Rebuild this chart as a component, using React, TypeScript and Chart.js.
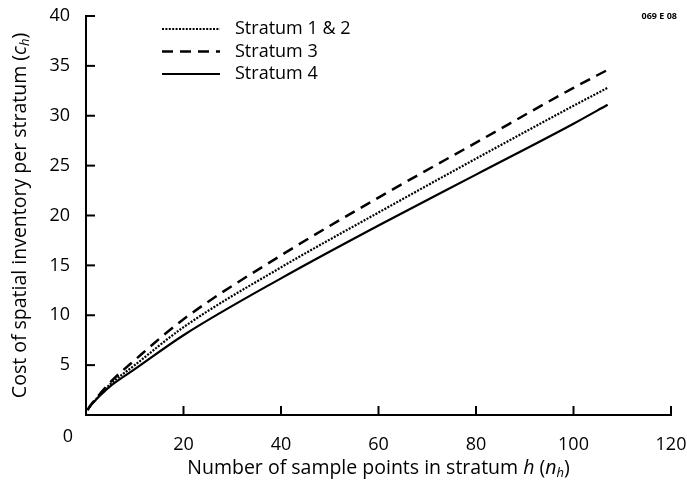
import React, { useEffect, useRef } from "react";
import { Chart, registerables } from "chart.js";

Chart.register(...registerables);

const sampleCounts = [0.3, 1, 2, 3, 5, 10, 20, 40, 60, 80, 100, 107];
const stratum12 = [0.5, 1.0, 1.55, 2.1, 3.1, 5.0, 8.8, 14.8, 20.3, 25.7, 31.0, 32.8];
const stratum3 = [0.5, 1.0, 1.6, 2.2, 3.3, 5.5, 9.6, 16.0, 21.8, 27.3, 32.8, 34.6];
const stratum4 = [0.5, 1.0, 1.5, 2.0, 2.9, 4.6, 8.0, 13.7, 19.0, 24.1, 29.2, 31.1];
const seriesLabels = ["Stratum 1 & 2", "Stratum 3", "Stratum 4"];
const xTickValues = [0, 20, 40, 60, 80, 100, 120];
const yTickValues = [0, 5, 10, 15, 20, 25, 30, 35, 40];
const xTitleParts = ["Number of sample points in stratum ", "h", " (", "n", "h", ")"];
const yTitleParts = ["Cost of spatial inventory per stratum (", "c", "h", ")"];
const figureCode = "069 E 08";

const FONT = "'Open Sans', 'Noto Sans', sans-serif";

const toPoints = (ys: number[]) => sampleCounts.map((x, i) => ({ x, y: ys[i] }));

function drawRich(ctx: CanvasRenderingContext2D, parts: { t: string; italic?: boolean; sub?: boolean }[], cx: number, cy: number) {
  const size = 19.5;
  const fontFor = (p: any) => `${p.italic ? "italic " : ""}${p.sub ? 13 : size}px ${FONT}`;
  let total = 0;
  const widths = parts.map((p) => {
    ctx.font = fontFor(p);
    const w = ctx.measureText(p.t).width;
    total += w;
    return w;
  });
  let x = cx - total / 2;
  ctx.textBaseline = "middle";
  ctx.textAlign = "left";
  parts.forEach((p, i) => {
    ctx.font = fontFor(p);
    ctx.fillText(p.t, x, p.sub ? cy + 5 : cy);
    x += widths[i];
  });
}

const overlayPlugin = {
  id: "overlay",
  afterDraw(chart: any) {
    const { ctx, chartArea: area, scales } = chart;
    const xs = scales.x;
    const ys = scales.y;
    ctx.save();
    ctx.strokeStyle = "#000";
    ctx.fillStyle = "#000";
    ctx.lineWidth = 2;
    // inward tick marks
    xTickValues.forEach((v) => {
      if (v === 0) return;
      const px = xs.getPixelForValue(v);
      ctx.beginPath();
      ctx.moveTo(px, area.bottom);
      ctx.lineTo(px, area.bottom - 9);
      ctx.stroke();
    });
    yTickValues.forEach((v) => {
      if (v === 0) return;
      const py = ys.getPixelForValue(v);
      ctx.beginPath();
      ctx.moveTo(area.left, py);
      ctx.lineTo(area.left + 9, py);
      ctx.stroke();
    });
    // origin label
    ctx.font = `18px ${FONT}`;
    ctx.textAlign = "center";
    ctx.textBaseline = "middle";
    ctx.fillText("0", xs.getPixelForValue(0) - 18, area.bottom + 22);

    // axis titles
    drawRich(
      ctx,
      [
        { t: xTitleParts[0] },
        { t: xTitleParts[1], italic: true },
        { t: xTitleParts[2] },
        { t: xTitleParts[3], italic: true },
        { t: xTitleParts[4], italic: true, sub: true },
        { t: xTitleParts[5] },
      ],
      (area.left + area.right) / 2,
      area.bottom + 53
    );
    ctx.save();
    ctx.translate(20, (area.top + area.bottom) / 2);
    ctx.rotate(-Math.PI / 2);
    drawRich(
      ctx,
      [
        { t: yTitleParts[0] },
        { t: yTitleParts[1], italic: true },
        { t: yTitleParts[2], italic: true, sub: true },
        { t: yTitleParts[3] },
      ],
      0,
      0
    );
    ctx.restore();

    // legend
    chart.data.datasets.forEach((ds: any, i: number) => {
      const y = 29 + i * 22.5;
      ctx.save();
      ctx.lineWidth = ds.borderWidth;
      ctx.setLineDash(ds.borderDash || []);
      ctx.beginPath();
      ctx.moveTo(162, y);
      ctx.lineTo(220, y);
      ctx.stroke();
      ctx.restore();
      ctx.font = `18px ${FONT}`;
      ctx.textAlign = "left";
      ctx.textBaseline = "middle";
      ctx.fillText(ds.label, 235, y);
    });

    // figure code
    ctx.font = `bold 9px ${FONT}`;
    ctx.textAlign = "right";
    ctx.textBaseline = "middle";
    ctx.fillText(figureCode, 677, 16);
    ctx.restore();
  },
};

export default function App() {
  const ref = useRef<HTMLCanvasElement | null>(null);
  useEffect(() => {
    if (!ref.current) return;
    const chart = new Chart(ref.current, {
      type: "line",
      data: {
        datasets: [
          {
            label: seriesLabels[0],
            data: toPoints(stratum12),
            borderColor: "#000",
            borderWidth: 2.2,
            borderDash: [2, 1.4],
            pointRadius: 0,
            cubicInterpolationMode: "monotone",
          },
          {
            label: seriesLabels[1],
            data: toPoints(stratum3),
            borderColor: "#000",
            borderWidth: 2.5,
            borderDash: [11, 7],
            pointRadius: 0,
            cubicInterpolationMode: "monotone",
          },
          {
            label: seriesLabels[2],
            data: toPoints(stratum4),
            borderColor: "#000",
            borderWidth: 2.2,
            pointRadius: 0,
            cubicInterpolationMode: "monotone",
          },
        ],
      },
      options: {
        animation: false,
        responsive: true,
        maintainAspectRatio: false,
        layout: { padding: { left: 0, top: 16, right: 16, bottom: 0 } },
        plugins: { legend: { display: false }, tooltip: { enabled: false } },
        scales: {
          x: {
            type: "linear",
            min: 0,
            max: 120,
            afterFit: (s: any) => {
              s.height = 70;
              s.paddingLeft = 0;
              s.paddingRight = 0;
            },
            afterBuildTicks: (s: any) => {
              s.ticks = xTickValues.map((v) => ({ value: v }));
            },
            grid: { display: false },
            border: { display: true, color: "#000", width: 2 },
            ticks: {
              color: "#000",
              font: { family: FONT, size: 18 },
              padding: 11,
              maxRotation: 0,
              callback: (v: any) => (v === 0 ? "" : String(v)),
            },
          },
          y: {
            type: "linear",
            min: 0,
            max: 40,
            afterFit: (s: any) => {
              s.width = 86;
              s.paddingTop = 0;
              s.paddingBottom = 0;
            },
            afterBuildTicks: (s: any) => {
              s.ticks = yTickValues.map((v) => ({ value: v }));
            },
            grid: { display: false },
            border: { display: true, color: "#000", width: 2 },
            ticks: {
              color: "#000",
              font: { family: FONT, size: 18 },
              padding: 8,
              callback: (v: any) => (v === 0 ? "" : String(v)),
            },
          },
        },
      },
      plugins: [overlayPlugin],
    } as any);
    return () => chart.destroy();
  }, []);
  return (
    <div style={{ position: "absolute", left: 0, top: 0, width: 687, height: 485, background: "#fff" }}>
      <canvas ref={ref} />
    </div>
  );
}
